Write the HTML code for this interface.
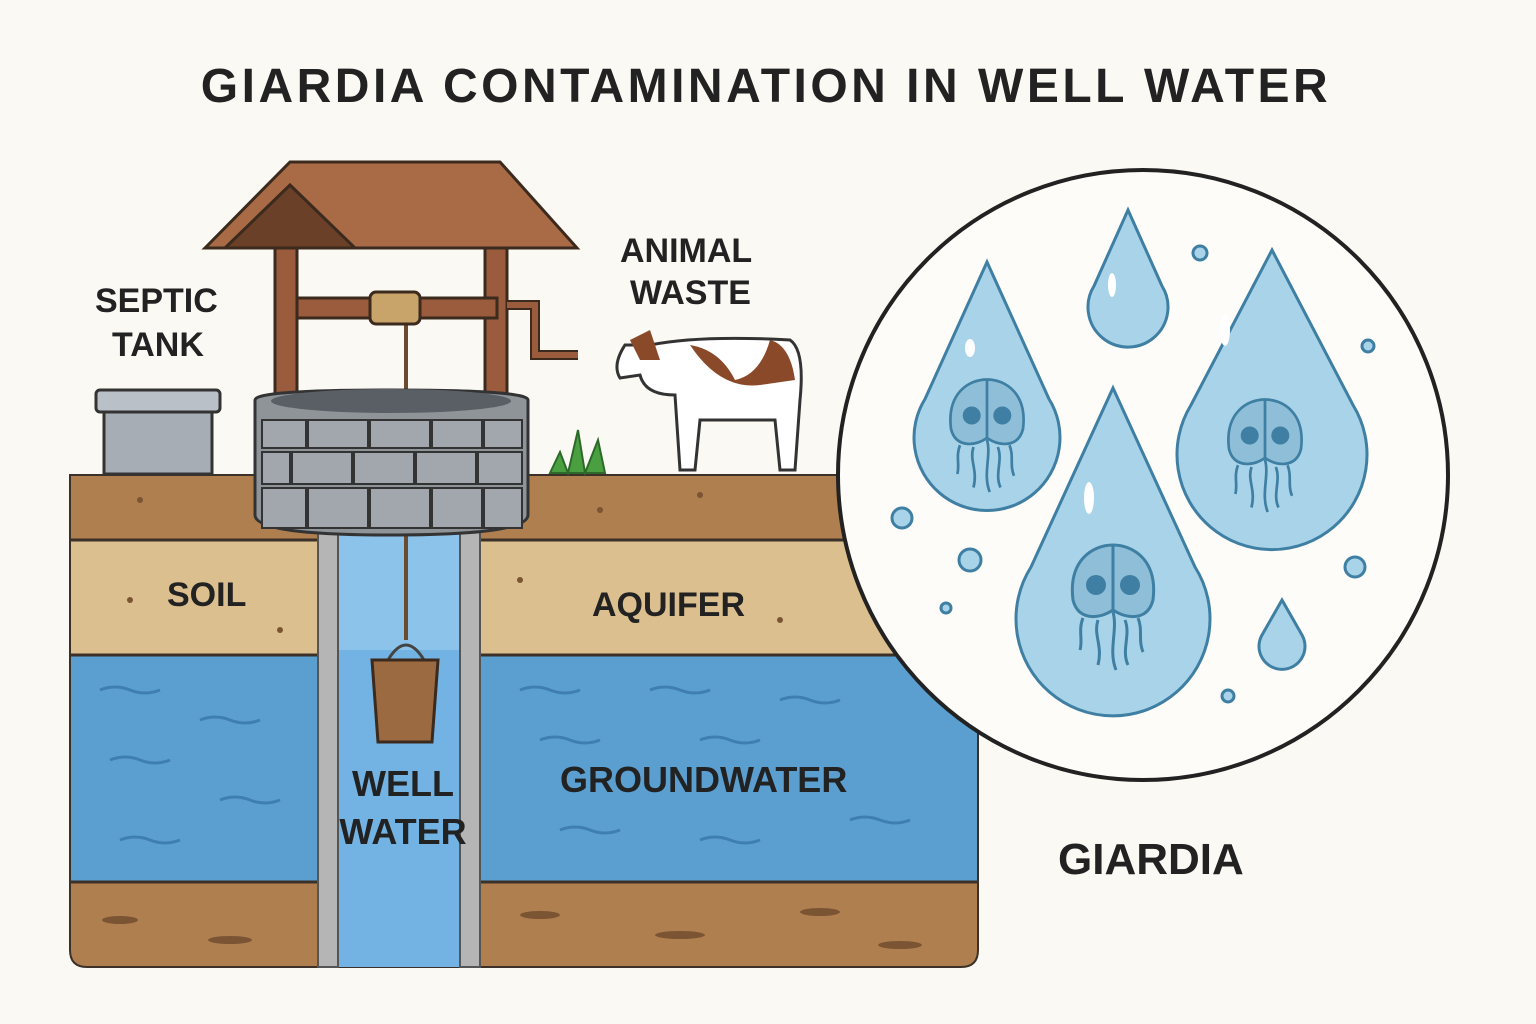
<!DOCTYPE html>
<html><head><meta charset="utf-8"><style>
html,body{margin:0;padding:0;background:#fbf9f3}
svg{display:block}
text{font-family:"Liberation Sans",sans-serif;font-weight:bold;fill:#222}
</style></head><body>
<svg width="1536" height="1024" viewBox="0 0 1536 1024" xmlns="http://www.w3.org/2000/svg">
<defs>
<g id="giar">
  <path d="M-40,10 C-45,-30 -20,-45 0,-45 C20,-45 45,-30 40,10 C35,30 15,30 0,20 C-15,30 -35,30 -40,10Z" fill="#8fbfd8" stroke="#3e7fa3" stroke-width="3"/>
  <line x1="0" y1="-44" x2="0" y2="20" stroke="#3e7fa3" stroke-width="3"/>
  <circle cx="-17" cy="-5" r="10" fill="#3e7fa3"/><circle cx="17" cy="-5" r="10" fill="#3e7fa3"/>
  <path d="M-30,28 C-35,40 -30,50 -33,60 M-15,30 C-20,45 -10,55 -15,75 M0,22 C5,40 -5,60 3,80 M12,30 C18,45 8,60 15,75 M25,28 C30,40 25,50 30,62" fill="none" stroke="#3e7fa3" stroke-width="3"/>
</g>
</defs>
<text x="766" y="102" text-anchor="middle" font-size="48" letter-spacing="3.5">GIARDIA CONTAMINATION IN WELL WATER</text>

<clipPath id="gc"><path d="M70,475 H978 V950 Q978,967 961,967 H87 Q70,967 70,950Z"/></clipPath>
<g clip-path="url(#gc)">
<rect x="70" y="475" width="908" height="492" fill="#b07f4f"/>
<rect x="70" y="540" width="908" height="115" fill="#dcbf8f"/>
<rect x="70" y="655" width="908" height="227" fill="#5a9fd0"/>
<rect x="70" y="882" width="908" height="85" fill="#b07f4f"/>
<line x1="70" y1="540" x2="978" y2="540" stroke="#3b3128" stroke-width="3"/>
<line x1="70" y1="655" x2="978" y2="655" stroke="#3b3128" stroke-width="3"/>
<line x1="70" y1="882" x2="978" y2="882" stroke="#3b3128" stroke-width="3"/>
<g stroke="#3f7fb0" stroke-width="3" fill="none">
<path d="M100,690 q15,-6 30,0 t30,0 M200,720 q15,-6 30,0 t30,0 M110,760 q15,-6 30,0 t30,0 M220,800 q15,-6 30,0 t30,0 M120,840 q15,-6 30,0 t30,0"/>
<path d="M520,690 q15,-6 30,0 t30,0 M650,690 q15,-6 30,0 t30,0 M780,700 q15,-6 30,0 t30,0 M540,740 q15,-6 30,0 t30,0 M700,740 q15,-6 30,0 t30,0 M560,830 q15,-6 30,0 t30,0 M700,840 q15,-6 30,0 t30,0 M850,820 q15,-6 30,0 t30,0"/>
</g>
<g fill="#7a5433"><ellipse cx="120" cy="920" rx="18" ry="4"/><ellipse cx="230" cy="940" rx="22" ry="4"/><ellipse cx="540" cy="915" rx="20" ry="4"/><ellipse cx="680" cy="935" rx="25" ry="4"/><ellipse cx="820" cy="912" rx="20" ry="4"/><ellipse cx="900" cy="945" rx="22" ry="4"/><ellipse cx="140" cy="500" rx="3" ry="3"/><ellipse cx="600" cy="510" rx="3" ry="3"/><ellipse cx="700" cy="495" rx="3" ry="3"/><ellipse cx="130" cy="600" rx="3" ry="3"/><ellipse cx="280" cy="630" rx="3" ry="3"/><ellipse cx="520" cy="580" rx="3" ry="3"/><ellipse cx="780" cy="620" rx="3" ry="3"/></g>
</g>
<path d="M70,475 H978 V950 Q978,967 961,967 H87 Q70,967 70,950Z" fill="none" stroke="#3b3128" stroke-width="2"/>
<rect x="338" y="530" width="122" height="437" fill="#72b3e3"/>
<rect x="338" y="530" width="122" height="120" fill="#8cc3ea"/>
<rect x="318" y="530" width="20" height="437" fill="#b5b5b5" stroke="#555" stroke-width="2"/>
<rect x="460" y="530" width="20" height="437" fill="#b5b5b5" stroke="#555" stroke-width="2"/>
<text x="167" y="606" font-size="34">SOIL</text>
<text x="592" y="616" font-size="34">AQUIFER</text>
<text x="560" y="792" font-size="36">GROUNDWATER</text>
<text x="403" y="796" font-size="36" text-anchor="middle">WELL</text>
<text x="403" y="844" font-size="36" text-anchor="middle">WATER</text>
<line x1="406" y1="320" x2="406" y2="640" stroke="#6b4a2f" stroke-width="4"/>
<path d="M388,660 Q406,630 424,660" fill="none" stroke="#444" stroke-width="3"/>
<path d="M372,660 H438 L432,742 H378Z" fill="#9c6a40" stroke="#3b2a1d" stroke-width="3"/>
<rect x="104" y="408" width="108" height="66" fill="#a6adb5" stroke="#333" stroke-width="3"/>
<rect x="96" y="390" width="124" height="22" rx="4" fill="#b9c0c7" stroke="#333" stroke-width="3"/>
<text x="95" y="312" font-size="34">SEPTIC</text>
<text x="112" y="356" font-size="34">TANK</text>
<rect x="275" y="190" width="22" height="210" fill="#9a5c3c" stroke="#3b2a1d" stroke-width="3"/>
<rect x="485" y="190" width="22" height="210" fill="#9a5c3c" stroke="#3b2a1d" stroke-width="3"/>
<rect x="297" y="298" width="200" height="20" fill="#9a5c3c" stroke="#3b2a1d" stroke-width="3"/>
<rect x="370" y="292" width="50" height="32" rx="6" fill="#c9a46a" stroke="#3b2a1d" stroke-width="3"/>
<path d="M507,305 H535 V355 H578" fill="none" stroke="#3b2a1d" stroke-width="10"/>
<path d="M507,305 H535 V355 H578" fill="none" stroke="#9a5c3c" stroke-width="6"/>
<path d="M205,248 L290,162 H500 L577,248Z" fill="#a86b45" stroke="#3b2a1d" stroke-width="3"/>
<path d="M225,248 L290,185 L355,248Z" fill="#6b4028" stroke="#3b2a1d" stroke-width="3"/>
<path d="M255,400 Q255,390 390,390 Q528,390 528,400 V515 Q528,535 390,535 Q255,535 255,515Z" fill="#8f9499" stroke="#333" stroke-width="3"/>
<ellipse cx="391" cy="401" rx="120" ry="12" fill="#5a5f66"/>
<g fill="#a2a7ad" stroke="#333" stroke-width="2">
<rect x="262" y="420" width="44" height="28"/><rect x="308" y="420" width="60" height="28"/><rect x="370" y="420" width="60" height="28"/><rect x="432" y="420" width="50" height="28"/><rect x="484" y="420" width="38" height="28"/>
<rect x="262" y="452" width="28" height="32"/><rect x="292" y="452" width="60" height="32"/><rect x="354" y="452" width="60" height="32"/><rect x="416" y="452" width="60" height="32"/><rect x="478" y="452" width="44" height="32"/>
<rect x="262" y="488" width="44" height="40"/><rect x="308" y="488" width="60" height="40"/><rect x="370" y="488" width="60" height="40"/><rect x="432" y="488" width="50" height="40"/><rect x="484" y="488" width="38" height="40"/>
</g>
<path d="M550,473 L560,452 L568,473 L578,430 L585,473 L598,440 L605,473Z" fill="#4aa040" stroke="#2d6a2a" stroke-width="2"/>
<text x="620" y="262" font-size="34">ANIMAL</text>
<text x="630" y="304" font-size="34">WASTE</text>
<path d="M650,345 Q700,335 790,340 Q805,350 800,400 L795,470 H780 L775,420 H700 L695,470 H680 L675,395 Q645,395 640,375 L620,378 Q612,365 625,345Z" fill="#fff" stroke="#333" stroke-width="3"/>
<path d="M690,345 Q720,350 735,380 Q760,375 770,340 Q790,345 795,380 L760,385 Q720,390 690,345Z" fill="#8a4a2a"/>
<path d="M630,340 L650,330 L660,360 L640,360Z" fill="#8a4a2a"/>
<circle cx="1143" cy="475" r="305" fill="#fdfcf8" stroke="#222" stroke-width="4"/>
<g fill="#a9d3e8" stroke="#3e7fa3" stroke-width="3">
<path d="M987,262 L1049,399 A73,73 0 1 1 925,399Z"/>
<path d="M1128,210 L1162,286 A40,40 0 1 1 1094,286Z"/>
<path d="M1272,250 L1353,405 A95,95 0 1 1 1191,405Z"/>
<path d="M1113,388 L1195,567 A97,97 0 1 1 1031,567Z"/>
<path d="M1282,600 L1302,635 A23,23 0 1 1 1262,635Z"/>
<circle cx="902" cy="518" r="10"/><circle cx="970" cy="560" r="11"/><circle cx="946" cy="608" r="5"/><circle cx="1200" cy="253" r="7"/><circle cx="1368" cy="346" r="6"/><circle cx="1355" cy="567" r="10"/><circle cx="1228" cy="696" r="6"/>
</g>
<use href="#giar" transform="translate(987,420) scale(0.9)"/>
<use href="#giar" transform="translate(1265,440) scale(0.9)"/>
<use href="#giar" transform="translate(1113,590) scale(1)"/>
<g fill="#fff"><ellipse cx="970" cy="348" rx="5" ry="9"/><ellipse cx="1112" cy="285" rx="4" ry="12"/><ellipse cx="1225" cy="330" rx="5" ry="16"/><ellipse cx="1089" cy="498" rx="5" ry="16"/></g>
<text x="1058" y="874" font-size="44">GIARDIA</text>
</svg>
</body></html>
